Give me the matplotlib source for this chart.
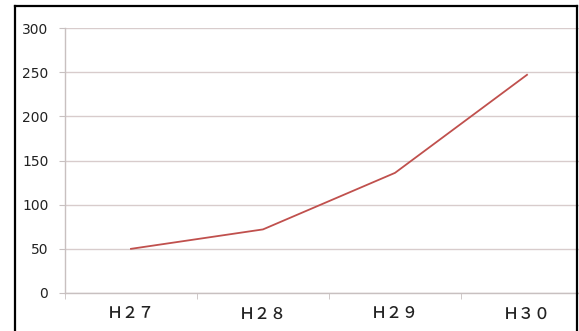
import matplotlib
matplotlib.use("Agg")
import matplotlib.pyplot as plt
from matplotlib.lines import Line2D

# 年度ごとの件数
nendo = ["Ｈ２７", "Ｈ２８", "Ｈ２９", "Ｈ３０"]
kensu = [50, 72, 136, 247]
y_ticks = [0, 50, 100, 150, 200, 250, 300]

plt.rcParams['font.family'] = ['Noto Sans CJK JP', 'DejaVu Sans']

W, H = 579, 331
fig = plt.figure(figsize=(W / 100, H / 100), dpi=100)

# プロット領域 (右端は枠の外にはみ出す)
x0, x1 = 65, 593
y0, y1 = 293, 28
ax = fig.add_axes([x0 / W, 1 - y0 / H, (x1 - x0) / W, (y0 - y1) / H])

x = list(range(len(nendo)))
ax.plot(x, kensu, color="#c0504d", linewidth=1.3)

ax.set_xlim(-0.5, len(nendo) - 0.5)
ax.set_ylim(0, 300)
ax.set_yticks(y_ticks)
ax.set_yticklabels([str(v) for v in y_ticks], fontsize=10, color="#222222",
                   family="DejaVu Sans")
ax.set_xticks(x)
ax.set_xticklabels(nendo, fontsize=11.5, color="#222222", fontweight="medium")
ax.set_xticks([i - 0.5 for i in range(len(nendo) + 1)], minor=True)

ax.grid(axis="y", color="#d8cccc", linewidth=1.0)
ax.set_axisbelow(True)

for s in ["top", "right"]:
    ax.spines[s].set_visible(False)
for s in ["left", "bottom"]:
    ax.spines[s].set_color("#c8c0c0")
    ax.spines[s].set_linewidth(1.0)

ax.tick_params(axis="y", length=4, color="#c8c0c0", pad=8)
ax.tick_params(axis="x", which="major", length=0, pad=9)
ax.tick_params(axis="x", which="minor", length=4, color="#c8c0c0")

# 外枠
fx0, fx1, fy0 = 15 / W, 577 / W, 1 - 6 / H
fig.add_artist(Line2D([fx0, fx0], [0, fy0], color="black", linewidth=1.6, transform=fig.transFigure))
fig.add_artist(Line2D([fx1, fx1], [0, fy0], color="black", linewidth=1.6, transform=fig.transFigure))
fig.add_artist(Line2D([fx0, fx1], [fy0, fy0], color="black", linewidth=1.6, transform=fig.transFigure))

fig.savefig("out.png", dpi=100)
